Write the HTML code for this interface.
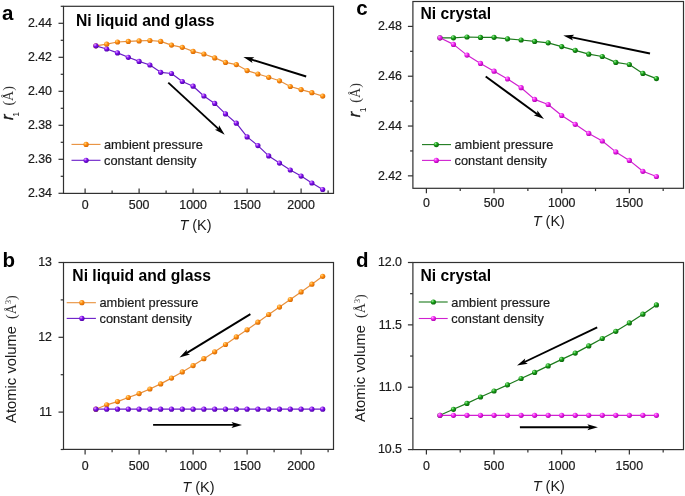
<!DOCTYPE html>
<html><head><meta charset="utf-8"><style>
html,body{margin:0;padding:0;background:#fff;width:685px;height:496px;overflow:hidden}
svg{display:block;will-change:transform}
</style></head><body><svg width="685" height="496" viewBox="0 0 685 496"><defs><radialGradient id="g_orange" cx="0.38" cy="0.36" r="0.7" fx="0.33" fy="0.3"><stop offset="0" stop-color="#FFDC80"/><stop offset="0.45" stop-color="#FF8C10"/><stop offset="1" stop-color="#D06400"/></radialGradient><radialGradient id="g_purple" cx="0.38" cy="0.36" r="0.7" fx="0.33" fy="0.3"><stop offset="0" stop-color="#F0A8FF"/><stop offset="0.45" stop-color="#7E10EE"/><stop offset="1" stop-color="#4C00A0"/></radialGradient><radialGradient id="g_green" cx="0.38" cy="0.36" r="0.7" fx="0.33" fy="0.3"><stop offset="0" stop-color="#A0F0A0"/><stop offset="0.45" stop-color="#16A016"/><stop offset="1" stop-color="#0A5A0A"/></radialGradient><radialGradient id="g_magenta" cx="0.38" cy="0.36" r="0.7" fx="0.33" fy="0.3"><stop offset="0" stop-color="#FFA8FF"/><stop offset="0.45" stop-color="#F020F0"/><stop offset="1" stop-color="#A800A8"/></radialGradient></defs><polyline points="95.90,45.80 106.70,44.20 117.50,42.00 128.30,41.40 139.10,40.90 149.90,40.50 160.70,41.40 171.50,45.10 182.30,47.30 193.10,51.40 203.90,54.00 214.70,57.90 225.50,62.40 236.30,64.60 247.10,70.60 257.90,74.00 268.70,77.30 279.50,80.80 290.30,86.50 301.10,89.60 311.90,92.70 322.70,96.10" fill="none" stroke="#E8903C" stroke-width="1.2" stroke-linejoin="round"/><circle cx="95.90" cy="45.80" r="2.6" fill="url(#g_orange)"/><circle cx="106.70" cy="44.20" r="2.6" fill="url(#g_orange)"/><circle cx="117.50" cy="42.00" r="2.6" fill="url(#g_orange)"/><circle cx="128.30" cy="41.40" r="2.6" fill="url(#g_orange)"/><circle cx="139.10" cy="40.90" r="2.6" fill="url(#g_orange)"/><circle cx="149.90" cy="40.50" r="2.6" fill="url(#g_orange)"/><circle cx="160.70" cy="41.40" r="2.6" fill="url(#g_orange)"/><circle cx="171.50" cy="45.10" r="2.6" fill="url(#g_orange)"/><circle cx="182.30" cy="47.30" r="2.6" fill="url(#g_orange)"/><circle cx="193.10" cy="51.40" r="2.6" fill="url(#g_orange)"/><circle cx="203.90" cy="54.00" r="2.6" fill="url(#g_orange)"/><circle cx="214.70" cy="57.90" r="2.6" fill="url(#g_orange)"/><circle cx="225.50" cy="62.40" r="2.6" fill="url(#g_orange)"/><circle cx="236.30" cy="64.60" r="2.6" fill="url(#g_orange)"/><circle cx="247.10" cy="70.60" r="2.6" fill="url(#g_orange)"/><circle cx="257.90" cy="74.00" r="2.6" fill="url(#g_orange)"/><circle cx="268.70" cy="77.30" r="2.6" fill="url(#g_orange)"/><circle cx="279.50" cy="80.80" r="2.6" fill="url(#g_orange)"/><circle cx="290.30" cy="86.50" r="2.6" fill="url(#g_orange)"/><circle cx="301.10" cy="89.60" r="2.6" fill="url(#g_orange)"/><circle cx="311.90" cy="92.70" r="2.6" fill="url(#g_orange)"/><circle cx="322.70" cy="96.10" r="2.6" fill="url(#g_orange)"/><polyline points="95.90,45.80 106.70,49.00 117.50,52.90 128.30,57.30 139.10,61.40 149.90,65.00 160.70,72.30 171.50,73.50 182.30,81.50 193.10,86.20 203.90,96.00 214.70,103.40 225.50,113.90 236.30,123.20 247.10,136.90 257.90,145.60 268.70,155.90 279.50,163.10 290.30,170.00 301.10,176.10 311.90,183.00 322.70,189.50" fill="none" stroke="#6A1CC8" stroke-width="1.2" stroke-linejoin="round"/><circle cx="95.90" cy="45.80" r="2.6" fill="url(#g_purple)"/><circle cx="106.70" cy="49.00" r="2.6" fill="url(#g_purple)"/><circle cx="117.50" cy="52.90" r="2.6" fill="url(#g_purple)"/><circle cx="128.30" cy="57.30" r="2.6" fill="url(#g_purple)"/><circle cx="139.10" cy="61.40" r="2.6" fill="url(#g_purple)"/><circle cx="149.90" cy="65.00" r="2.6" fill="url(#g_purple)"/><circle cx="160.70" cy="72.30" r="2.6" fill="url(#g_purple)"/><circle cx="171.50" cy="73.50" r="2.6" fill="url(#g_purple)"/><circle cx="182.30" cy="81.50" r="2.6" fill="url(#g_purple)"/><circle cx="193.10" cy="86.20" r="2.6" fill="url(#g_purple)"/><circle cx="203.90" cy="96.00" r="2.6" fill="url(#g_purple)"/><circle cx="214.70" cy="103.40" r="2.6" fill="url(#g_purple)"/><circle cx="225.50" cy="113.90" r="2.6" fill="url(#g_purple)"/><circle cx="236.30" cy="123.20" r="2.6" fill="url(#g_purple)"/><circle cx="247.10" cy="136.90" r="2.6" fill="url(#g_purple)"/><circle cx="257.90" cy="145.60" r="2.6" fill="url(#g_purple)"/><circle cx="268.70" cy="155.90" r="2.6" fill="url(#g_purple)"/><circle cx="279.50" cy="163.10" r="2.6" fill="url(#g_purple)"/><circle cx="290.30" cy="170.00" r="2.6" fill="url(#g_purple)"/><circle cx="301.10" cy="176.10" r="2.6" fill="url(#g_purple)"/><circle cx="311.90" cy="183.00" r="2.6" fill="url(#g_purple)"/><circle cx="322.70" cy="189.50" r="2.6" fill="url(#g_purple)"/><line x1="306.20" y1="76.50" x2="250.85" y2="59.31" stroke="#000" stroke-width="1.9"/><polygon points="243.40,57.00 254.32,57.25 251.33,59.46 252.54,62.98" fill="#000"/><line x1="168.30" y1="82.60" x2="218.97" y2="129.41" stroke="#000" stroke-width="1.9"/><polygon points="224.70,134.70 214.95,129.78 218.60,129.07 219.02,125.37" fill="#000"/><rect x="63.5" y="6.3" width="270.0" height="187.1" fill="none" stroke="#303030" stroke-width="1.2"/><line x1="85.10" y1="193.4" x2="85.10" y2="188.4" stroke="#303030" stroke-width="1.2"/><line x1="139.10" y1="193.4" x2="139.10" y2="188.4" stroke="#303030" stroke-width="1.2"/><line x1="193.10" y1="193.4" x2="193.10" y2="188.4" stroke="#303030" stroke-width="1.2"/><line x1="247.10" y1="193.4" x2="247.10" y2="188.4" stroke="#303030" stroke-width="1.2"/><line x1="301.10" y1="193.4" x2="301.10" y2="188.4" stroke="#303030" stroke-width="1.2"/><line x1="112.10" y1="193.4" x2="112.10" y2="190.6" stroke="#303030" stroke-width="1.2"/><line x1="166.10" y1="193.4" x2="166.10" y2="190.6" stroke="#303030" stroke-width="1.2"/><line x1="220.10" y1="193.4" x2="220.10" y2="190.6" stroke="#303030" stroke-width="1.2"/><line x1="274.10" y1="193.4" x2="274.10" y2="190.6" stroke="#303030" stroke-width="1.2"/><line x1="328.10" y1="193.4" x2="328.10" y2="190.6" stroke="#303030" stroke-width="1.2"/><line x1="63.5" y1="193.30" x2="58.5" y2="193.30" stroke="#303030" stroke-width="1.2"/><line x1="63.5" y1="159.30" x2="58.5" y2="159.30" stroke="#303030" stroke-width="1.2"/><line x1="63.5" y1="125.30" x2="58.5" y2="125.30" stroke="#303030" stroke-width="1.2"/><line x1="63.5" y1="91.30" x2="58.5" y2="91.30" stroke="#303030" stroke-width="1.2"/><line x1="63.5" y1="57.30" x2="58.5" y2="57.30" stroke="#303030" stroke-width="1.2"/><line x1="63.5" y1="23.30" x2="58.5" y2="23.30" stroke="#303030" stroke-width="1.2"/><line x1="63.5" y1="176.30" x2="60.7" y2="176.30" stroke="#303030" stroke-width="1.2"/><line x1="63.5" y1="142.30" x2="60.7" y2="142.30" stroke="#303030" stroke-width="1.2"/><line x1="63.5" y1="108.30" x2="60.7" y2="108.30" stroke="#303030" stroke-width="1.2"/><line x1="63.5" y1="74.30" x2="60.7" y2="74.30" stroke="#303030" stroke-width="1.2"/><line x1="63.5" y1="40.30" x2="60.7" y2="40.30" stroke="#303030" stroke-width="1.2"/><line x1="63.5" y1="6.30" x2="60.7" y2="6.30" stroke="#303030" stroke-width="1.2"/><text x="85.10" y="208.6" font-size="12.4" text-anchor="middle" font-weight="normal" font-style="normal" font-family='"Liberation Sans", sans-serif' fill="#1a1a1a" stroke="#1a1a1a" stroke-width="0.2">0</text><text x="139.10" y="208.6" font-size="12.4" text-anchor="middle" font-weight="normal" font-style="normal" font-family='"Liberation Sans", sans-serif' fill="#1a1a1a" stroke="#1a1a1a" stroke-width="0.2">500</text><text x="193.10" y="208.6" font-size="12.4" text-anchor="middle" font-weight="normal" font-style="normal" font-family='"Liberation Sans", sans-serif' fill="#1a1a1a" stroke="#1a1a1a" stroke-width="0.2">1000</text><text x="247.10" y="208.6" font-size="12.4" text-anchor="middle" font-weight="normal" font-style="normal" font-family='"Liberation Sans", sans-serif' fill="#1a1a1a" stroke="#1a1a1a" stroke-width="0.2">1500</text><text x="301.10" y="208.6" font-size="12.4" text-anchor="middle" font-weight="normal" font-style="normal" font-family='"Liberation Sans", sans-serif' fill="#1a1a1a" stroke="#1a1a1a" stroke-width="0.2">2000</text><text x="52" y="197.00" font-size="12.4" text-anchor="end" font-weight="normal" font-style="normal" font-family='"Liberation Sans", sans-serif' fill="#1a1a1a" stroke="#1a1a1a" stroke-width="0.2">2.34</text><text x="52" y="163.00" font-size="12.4" text-anchor="end" font-weight="normal" font-style="normal" font-family='"Liberation Sans", sans-serif' fill="#1a1a1a" stroke="#1a1a1a" stroke-width="0.2">2.36</text><text x="52" y="129.00" font-size="12.4" text-anchor="end" font-weight="normal" font-style="normal" font-family='"Liberation Sans", sans-serif' fill="#1a1a1a" stroke="#1a1a1a" stroke-width="0.2">2.38</text><text x="52" y="95.00" font-size="12.4" text-anchor="end" font-weight="normal" font-style="normal" font-family='"Liberation Sans", sans-serif' fill="#1a1a1a" stroke="#1a1a1a" stroke-width="0.2">2.40</text><text x="52" y="61.00" font-size="12.4" text-anchor="end" font-weight="normal" font-style="normal" font-family='"Liberation Sans", sans-serif' fill="#1a1a1a" stroke="#1a1a1a" stroke-width="0.2">2.42</text><text x="52" y="27.00" font-size="12.4" text-anchor="end" font-weight="normal" font-style="normal" font-family='"Liberation Sans", sans-serif' fill="#1a1a1a" stroke="#1a1a1a" stroke-width="0.2">2.44</text><polyline points="95.90,409.20 106.70,404.80 117.50,401.60 128.30,397.50 139.10,393.60 149.90,389.00 160.70,383.90 171.50,378.10 182.30,371.90 193.10,365.60 203.90,358.70 214.70,351.80 225.50,344.50 236.30,336.90 247.10,329.80 257.90,322.20 268.70,314.50 279.50,307.10 290.30,299.50 301.10,291.90 311.90,284.20 322.70,276.30" fill="none" stroke="#E8903C" stroke-width="1.2" stroke-linejoin="round"/><circle cx="95.90" cy="409.20" r="2.6" fill="url(#g_orange)"/><circle cx="106.70" cy="404.80" r="2.6" fill="url(#g_orange)"/><circle cx="117.50" cy="401.60" r="2.6" fill="url(#g_orange)"/><circle cx="128.30" cy="397.50" r="2.6" fill="url(#g_orange)"/><circle cx="139.10" cy="393.60" r="2.6" fill="url(#g_orange)"/><circle cx="149.90" cy="389.00" r="2.6" fill="url(#g_orange)"/><circle cx="160.70" cy="383.90" r="2.6" fill="url(#g_orange)"/><circle cx="171.50" cy="378.10" r="2.6" fill="url(#g_orange)"/><circle cx="182.30" cy="371.90" r="2.6" fill="url(#g_orange)"/><circle cx="193.10" cy="365.60" r="2.6" fill="url(#g_orange)"/><circle cx="203.90" cy="358.70" r="2.6" fill="url(#g_orange)"/><circle cx="214.70" cy="351.80" r="2.6" fill="url(#g_orange)"/><circle cx="225.50" cy="344.50" r="2.6" fill="url(#g_orange)"/><circle cx="236.30" cy="336.90" r="2.6" fill="url(#g_orange)"/><circle cx="247.10" cy="329.80" r="2.6" fill="url(#g_orange)"/><circle cx="257.90" cy="322.20" r="2.6" fill="url(#g_orange)"/><circle cx="268.70" cy="314.50" r="2.6" fill="url(#g_orange)"/><circle cx="279.50" cy="307.10" r="2.6" fill="url(#g_orange)"/><circle cx="290.30" cy="299.50" r="2.6" fill="url(#g_orange)"/><circle cx="301.10" cy="291.90" r="2.6" fill="url(#g_orange)"/><circle cx="311.90" cy="284.20" r="2.6" fill="url(#g_orange)"/><circle cx="322.70" cy="276.30" r="2.6" fill="url(#g_orange)"/><polyline points="95.90,409.20 106.70,409.20 117.50,409.20 128.30,409.20 139.10,409.20 149.90,409.20 160.70,409.20 171.50,409.20 182.30,409.20 193.10,409.20 203.90,409.20 214.70,409.20 225.50,409.20 236.30,409.20 247.10,409.20 257.90,409.20 268.70,409.20 279.50,409.20 290.30,409.20 301.10,409.20 311.90,409.20 322.70,409.20" fill="none" stroke="#6A1CC8" stroke-width="1.2" stroke-linejoin="round"/><circle cx="95.90" cy="409.20" r="2.6" fill="url(#g_purple)"/><circle cx="106.70" cy="409.20" r="2.6" fill="url(#g_purple)"/><circle cx="117.50" cy="409.20" r="2.6" fill="url(#g_purple)"/><circle cx="128.30" cy="409.20" r="2.6" fill="url(#g_purple)"/><circle cx="139.10" cy="409.20" r="2.6" fill="url(#g_purple)"/><circle cx="149.90" cy="409.20" r="2.6" fill="url(#g_purple)"/><circle cx="160.70" cy="409.20" r="2.6" fill="url(#g_purple)"/><circle cx="171.50" cy="409.20" r="2.6" fill="url(#g_purple)"/><circle cx="182.30" cy="409.20" r="2.6" fill="url(#g_purple)"/><circle cx="193.10" cy="409.20" r="2.6" fill="url(#g_purple)"/><circle cx="203.90" cy="409.20" r="2.6" fill="url(#g_purple)"/><circle cx="214.70" cy="409.20" r="2.6" fill="url(#g_purple)"/><circle cx="225.50" cy="409.20" r="2.6" fill="url(#g_purple)"/><circle cx="236.30" cy="409.20" r="2.6" fill="url(#g_purple)"/><circle cx="247.10" cy="409.20" r="2.6" fill="url(#g_purple)"/><circle cx="257.90" cy="409.20" r="2.6" fill="url(#g_purple)"/><circle cx="268.70" cy="409.20" r="2.6" fill="url(#g_purple)"/><circle cx="279.50" cy="409.20" r="2.6" fill="url(#g_purple)"/><circle cx="290.30" cy="409.20" r="2.6" fill="url(#g_purple)"/><circle cx="301.10" cy="409.20" r="2.6" fill="url(#g_purple)"/><circle cx="311.90" cy="409.20" r="2.6" fill="url(#g_purple)"/><circle cx="322.70" cy="409.20" r="2.6" fill="url(#g_purple)"/><line x1="250.40" y1="314.10" x2="186.15" y2="353.43" stroke="#000" stroke-width="1.9"/><polygon points="179.50,357.50 186.89,349.46 186.58,353.17 190.02,354.58" fill="#000"/><line x1="153.10" y1="424.90" x2="234.20" y2="424.90" stroke="#000" stroke-width="1.9"/><polygon points="242.00,424.90 231.50,427.90 233.70,424.90 231.50,421.90" fill="#000"/><rect x="63.5" y="262.5" width="270.0" height="186.89999999999998" fill="none" stroke="#303030" stroke-width="1.2"/><line x1="85.10" y1="449.4" x2="85.10" y2="454.4" stroke="#303030" stroke-width="1.2"/><line x1="139.10" y1="449.4" x2="139.10" y2="454.4" stroke="#303030" stroke-width="1.2"/><line x1="193.10" y1="449.4" x2="193.10" y2="454.4" stroke="#303030" stroke-width="1.2"/><line x1="247.10" y1="449.4" x2="247.10" y2="454.4" stroke="#303030" stroke-width="1.2"/><line x1="301.10" y1="449.4" x2="301.10" y2="454.4" stroke="#303030" stroke-width="1.2"/><line x1="112.10" y1="449.4" x2="112.10" y2="452.2" stroke="#303030" stroke-width="1.2"/><line x1="166.10" y1="449.4" x2="166.10" y2="452.2" stroke="#303030" stroke-width="1.2"/><line x1="220.10" y1="449.4" x2="220.10" y2="452.2" stroke="#303030" stroke-width="1.2"/><line x1="274.10" y1="449.4" x2="274.10" y2="452.2" stroke="#303030" stroke-width="1.2"/><line x1="328.10" y1="449.4" x2="328.10" y2="452.2" stroke="#303030" stroke-width="1.2"/><line x1="63.5" y1="412.10" x2="58.5" y2="412.10" stroke="#303030" stroke-width="1.2"/><line x1="63.5" y1="337.30" x2="58.5" y2="337.30" stroke="#303030" stroke-width="1.2"/><line x1="63.5" y1="262.50" x2="58.5" y2="262.50" stroke="#303030" stroke-width="1.2"/><line x1="63.5" y1="449.50" x2="60.7" y2="449.50" stroke="#303030" stroke-width="1.2"/><line x1="63.5" y1="374.70" x2="60.7" y2="374.70" stroke="#303030" stroke-width="1.2"/><line x1="63.5" y1="299.90" x2="60.7" y2="299.90" stroke="#303030" stroke-width="1.2"/><text x="85.10" y="470" font-size="12.4" text-anchor="middle" font-weight="normal" font-style="normal" font-family='"Liberation Sans", sans-serif' fill="#1a1a1a" stroke="#1a1a1a" stroke-width="0.2">0</text><text x="139.10" y="470" font-size="12.4" text-anchor="middle" font-weight="normal" font-style="normal" font-family='"Liberation Sans", sans-serif' fill="#1a1a1a" stroke="#1a1a1a" stroke-width="0.2">500</text><text x="193.10" y="470" font-size="12.4" text-anchor="middle" font-weight="normal" font-style="normal" font-family='"Liberation Sans", sans-serif' fill="#1a1a1a" stroke="#1a1a1a" stroke-width="0.2">1000</text><text x="247.10" y="470" font-size="12.4" text-anchor="middle" font-weight="normal" font-style="normal" font-family='"Liberation Sans", sans-serif' fill="#1a1a1a" stroke="#1a1a1a" stroke-width="0.2">1500</text><text x="301.10" y="470" font-size="12.4" text-anchor="middle" font-weight="normal" font-style="normal" font-family='"Liberation Sans", sans-serif' fill="#1a1a1a" stroke="#1a1a1a" stroke-width="0.2">2000</text><text x="52" y="415.80" font-size="12.4" text-anchor="end" font-weight="normal" font-style="normal" font-family='"Liberation Sans", sans-serif' fill="#1a1a1a" stroke="#1a1a1a" stroke-width="0.2">11</text><text x="52" y="341.00" font-size="12.4" text-anchor="end" font-weight="normal" font-style="normal" font-family='"Liberation Sans", sans-serif' fill="#1a1a1a" stroke="#1a1a1a" stroke-width="0.2">12</text><text x="52" y="266.20" font-size="12.4" text-anchor="end" font-weight="normal" font-style="normal" font-family='"Liberation Sans", sans-serif' fill="#1a1a1a" stroke="#1a1a1a" stroke-width="0.2">13</text><polyline points="439.93,37.80 453.46,37.80 466.99,37.00 480.52,37.40 494.05,37.30 507.58,38.90 521.11,40.00 534.64,41.40 548.17,42.80 561.70,46.60 575.23,50.30 588.76,54.20 602.29,56.50 615.82,62.40 629.35,64.50 642.88,73.40 656.41,78.60" fill="none" stroke="#1C7A1C" stroke-width="1.2" stroke-linejoin="round"/><circle cx="439.93" cy="37.80" r="2.6" fill="url(#g_green)"/><circle cx="453.46" cy="37.80" r="2.6" fill="url(#g_green)"/><circle cx="466.99" cy="37.00" r="2.6" fill="url(#g_green)"/><circle cx="480.52" cy="37.40" r="2.6" fill="url(#g_green)"/><circle cx="494.05" cy="37.30" r="2.6" fill="url(#g_green)"/><circle cx="507.58" cy="38.90" r="2.6" fill="url(#g_green)"/><circle cx="521.11" cy="40.00" r="2.6" fill="url(#g_green)"/><circle cx="534.64" cy="41.40" r="2.6" fill="url(#g_green)"/><circle cx="548.17" cy="42.80" r="2.6" fill="url(#g_green)"/><circle cx="561.70" cy="46.60" r="2.6" fill="url(#g_green)"/><circle cx="575.23" cy="50.30" r="2.6" fill="url(#g_green)"/><circle cx="588.76" cy="54.20" r="2.6" fill="url(#g_green)"/><circle cx="602.29" cy="56.50" r="2.6" fill="url(#g_green)"/><circle cx="615.82" cy="62.40" r="2.6" fill="url(#g_green)"/><circle cx="629.35" cy="64.50" r="2.6" fill="url(#g_green)"/><circle cx="642.88" cy="73.40" r="2.6" fill="url(#g_green)"/><circle cx="656.41" cy="78.60" r="2.6" fill="url(#g_green)"/><polyline points="439.93,37.80 453.46,44.40 466.99,55.10 480.52,63.40 494.05,71.20 507.58,79.00 521.11,87.70 534.64,99.40 548.17,104.50 561.70,115.50 575.23,124.30 588.76,133.40 602.29,141.00 615.82,151.90 629.35,160.40 642.88,171.30 656.41,176.50" fill="none" stroke="#D020D0" stroke-width="1.2" stroke-linejoin="round"/><circle cx="439.93" cy="37.80" r="2.6" fill="url(#g_magenta)"/><circle cx="453.46" cy="44.40" r="2.6" fill="url(#g_magenta)"/><circle cx="466.99" cy="55.10" r="2.6" fill="url(#g_magenta)"/><circle cx="480.52" cy="63.40" r="2.6" fill="url(#g_magenta)"/><circle cx="494.05" cy="71.20" r="2.6" fill="url(#g_magenta)"/><circle cx="507.58" cy="79.00" r="2.6" fill="url(#g_magenta)"/><circle cx="521.11" cy="87.70" r="2.6" fill="url(#g_magenta)"/><circle cx="534.64" cy="99.40" r="2.6" fill="url(#g_magenta)"/><circle cx="548.17" cy="104.50" r="2.6" fill="url(#g_magenta)"/><circle cx="561.70" cy="115.50" r="2.6" fill="url(#g_magenta)"/><circle cx="575.23" cy="124.30" r="2.6" fill="url(#g_magenta)"/><circle cx="588.76" cy="133.40" r="2.6" fill="url(#g_magenta)"/><circle cx="602.29" cy="141.00" r="2.6" fill="url(#g_magenta)"/><circle cx="615.82" cy="151.90" r="2.6" fill="url(#g_magenta)"/><circle cx="629.35" cy="160.40" r="2.6" fill="url(#g_magenta)"/><circle cx="642.88" cy="171.30" r="2.6" fill="url(#g_magenta)"/><circle cx="656.41" cy="176.50" r="2.6" fill="url(#g_magenta)"/><line x1="650.00" y1="53.50" x2="570.94" y2="37.09" stroke="#000" stroke-width="1.9"/><polygon points="563.30,35.50 574.19,34.70 571.43,37.19 572.97,40.57" fill="#000"/><line x1="485.70" y1="76.50" x2="537.70" y2="114.50" stroke="#000" stroke-width="1.9"/><polygon points="544.00,119.10 533.75,115.33 537.30,114.20 537.29,110.48" fill="#000"/><rect x="412.9" y="1.5" width="270.6" height="186.8" fill="none" stroke="#303030" stroke-width="1.2"/><line x1="426.40" y1="188.3" x2="426.40" y2="193.3" stroke="#303030" stroke-width="1.2"/><line x1="494.05" y1="188.3" x2="494.05" y2="193.3" stroke="#303030" stroke-width="1.2"/><line x1="561.70" y1="188.3" x2="561.70" y2="193.3" stroke="#303030" stroke-width="1.2"/><line x1="629.35" y1="188.3" x2="629.35" y2="193.3" stroke="#303030" stroke-width="1.2"/><line x1="460.22" y1="188.3" x2="460.22" y2="191.10000000000002" stroke="#303030" stroke-width="1.2"/><line x1="527.88" y1="188.3" x2="527.88" y2="191.10000000000002" stroke="#303030" stroke-width="1.2"/><line x1="595.52" y1="188.3" x2="595.52" y2="191.10000000000002" stroke="#303030" stroke-width="1.2"/><line x1="663.17" y1="188.3" x2="663.17" y2="191.10000000000002" stroke="#303030" stroke-width="1.2"/><line x1="412.9" y1="175.85" x2="407.9" y2="175.85" stroke="#303030" stroke-width="1.2"/><line x1="412.9" y1="126.04" x2="407.9" y2="126.04" stroke="#303030" stroke-width="1.2"/><line x1="412.9" y1="76.22" x2="407.9" y2="76.22" stroke="#303030" stroke-width="1.2"/><line x1="412.9" y1="26.41" x2="407.9" y2="26.41" stroke="#303030" stroke-width="1.2"/><line x1="412.9" y1="150.94" x2="410.09999999999997" y2="150.94" stroke="#303030" stroke-width="1.2"/><line x1="412.9" y1="101.13" x2="410.09999999999997" y2="101.13" stroke="#303030" stroke-width="1.2"/><line x1="412.9" y1="51.31" x2="410.09999999999997" y2="51.31" stroke="#303030" stroke-width="1.2"/><text x="426.40" y="206.7" font-size="12.4" text-anchor="middle" font-weight="normal" font-style="normal" font-family='"Liberation Sans", sans-serif' fill="#1a1a1a" stroke="#1a1a1a" stroke-width="0.2">0</text><text x="494.05" y="206.7" font-size="12.4" text-anchor="middle" font-weight="normal" font-style="normal" font-family='"Liberation Sans", sans-serif' fill="#1a1a1a" stroke="#1a1a1a" stroke-width="0.2">500</text><text x="561.70" y="206.7" font-size="12.4" text-anchor="middle" font-weight="normal" font-style="normal" font-family='"Liberation Sans", sans-serif' fill="#1a1a1a" stroke="#1a1a1a" stroke-width="0.2">1000</text><text x="629.35" y="206.7" font-size="12.4" text-anchor="middle" font-weight="normal" font-style="normal" font-family='"Liberation Sans", sans-serif' fill="#1a1a1a" stroke="#1a1a1a" stroke-width="0.2">1500</text><text x="402" y="179.55" font-size="12.4" text-anchor="end" font-weight="normal" font-style="normal" font-family='"Liberation Sans", sans-serif' fill="#1a1a1a" stroke="#1a1a1a" stroke-width="0.2">2.42</text><text x="402" y="129.74" font-size="12.4" text-anchor="end" font-weight="normal" font-style="normal" font-family='"Liberation Sans", sans-serif' fill="#1a1a1a" stroke="#1a1a1a" stroke-width="0.2">2.44</text><text x="402" y="79.92" font-size="12.4" text-anchor="end" font-weight="normal" font-style="normal" font-family='"Liberation Sans", sans-serif' fill="#1a1a1a" stroke="#1a1a1a" stroke-width="0.2">2.46</text><text x="402" y="30.11" font-size="12.4" text-anchor="end" font-weight="normal" font-style="normal" font-family='"Liberation Sans", sans-serif' fill="#1a1a1a" stroke="#1a1a1a" stroke-width="0.2">2.48</text><polyline points="439.93,415.30 453.46,409.30 466.99,403.40 480.52,397.00 494.05,391.00 507.58,384.90 521.11,378.50 534.64,372.40 548.17,365.90 561.70,359.40 575.23,353.10 588.76,345.90 602.29,338.50 615.82,331.30 629.35,322.90 642.88,314.20 656.41,304.90" fill="none" stroke="#1C7A1C" stroke-width="1.2" stroke-linejoin="round"/><circle cx="439.93" cy="415.30" r="2.6" fill="url(#g_green)"/><circle cx="453.46" cy="409.30" r="2.6" fill="url(#g_green)"/><circle cx="466.99" cy="403.40" r="2.6" fill="url(#g_green)"/><circle cx="480.52" cy="397.00" r="2.6" fill="url(#g_green)"/><circle cx="494.05" cy="391.00" r="2.6" fill="url(#g_green)"/><circle cx="507.58" cy="384.90" r="2.6" fill="url(#g_green)"/><circle cx="521.11" cy="378.50" r="2.6" fill="url(#g_green)"/><circle cx="534.64" cy="372.40" r="2.6" fill="url(#g_green)"/><circle cx="548.17" cy="365.90" r="2.6" fill="url(#g_green)"/><circle cx="561.70" cy="359.40" r="2.6" fill="url(#g_green)"/><circle cx="575.23" cy="353.10" r="2.6" fill="url(#g_green)"/><circle cx="588.76" cy="345.90" r="2.6" fill="url(#g_green)"/><circle cx="602.29" cy="338.50" r="2.6" fill="url(#g_green)"/><circle cx="615.82" cy="331.30" r="2.6" fill="url(#g_green)"/><circle cx="629.35" cy="322.90" r="2.6" fill="url(#g_green)"/><circle cx="642.88" cy="314.20" r="2.6" fill="url(#g_green)"/><circle cx="656.41" cy="304.90" r="2.6" fill="url(#g_green)"/><polyline points="439.93,415.30 453.46,415.30 466.99,415.30 480.52,415.30 494.05,415.30 507.58,415.30 521.11,415.30 534.64,415.30 548.17,415.30 561.70,415.30 575.23,415.30 588.76,415.30 602.29,415.30 615.82,415.30 629.35,415.30 642.88,415.30 656.41,415.30" fill="none" stroke="#D020D0" stroke-width="1.2" stroke-linejoin="round"/><circle cx="439.93" cy="415.30" r="2.6" fill="url(#g_magenta)"/><circle cx="453.46" cy="415.30" r="2.6" fill="url(#g_magenta)"/><circle cx="466.99" cy="415.30" r="2.6" fill="url(#g_magenta)"/><circle cx="480.52" cy="415.30" r="2.6" fill="url(#g_magenta)"/><circle cx="494.05" cy="415.30" r="2.6" fill="url(#g_magenta)"/><circle cx="507.58" cy="415.30" r="2.6" fill="url(#g_magenta)"/><circle cx="521.11" cy="415.30" r="2.6" fill="url(#g_magenta)"/><circle cx="534.64" cy="415.30" r="2.6" fill="url(#g_magenta)"/><circle cx="548.17" cy="415.30" r="2.6" fill="url(#g_magenta)"/><circle cx="561.70" cy="415.30" r="2.6" fill="url(#g_magenta)"/><circle cx="575.23" cy="415.30" r="2.6" fill="url(#g_magenta)"/><circle cx="588.76" cy="415.30" r="2.6" fill="url(#g_magenta)"/><circle cx="602.29" cy="415.30" r="2.6" fill="url(#g_magenta)"/><circle cx="615.82" cy="415.30" r="2.6" fill="url(#g_magenta)"/><circle cx="629.35" cy="415.30" r="2.6" fill="url(#g_magenta)"/><circle cx="642.88" cy="415.30" r="2.6" fill="url(#g_magenta)"/><circle cx="656.41" cy="415.30" r="2.6" fill="url(#g_magenta)"/><line x1="597.20" y1="327.40" x2="524.04" y2="362.25" stroke="#000" stroke-width="1.9"/><polygon points="517.00,365.60 525.19,358.38 524.49,362.03 527.77,363.79" fill="#000"/><line x1="519.90" y1="427.20" x2="590.10" y2="427.20" stroke="#000" stroke-width="1.9"/><polygon points="597.90,427.20 587.40,430.20 589.60,427.20 587.40,424.20" fill="#000"/><rect x="412.9" y="262.5" width="270.6" height="187.10000000000002" fill="none" stroke="#303030" stroke-width="1.2"/><line x1="426.40" y1="449.6" x2="426.40" y2="454.6" stroke="#303030" stroke-width="1.2"/><line x1="494.05" y1="449.6" x2="494.05" y2="454.6" stroke="#303030" stroke-width="1.2"/><line x1="561.70" y1="449.6" x2="561.70" y2="454.6" stroke="#303030" stroke-width="1.2"/><line x1="629.35" y1="449.6" x2="629.35" y2="454.6" stroke="#303030" stroke-width="1.2"/><line x1="460.22" y1="449.6" x2="460.22" y2="452.40000000000003" stroke="#303030" stroke-width="1.2"/><line x1="527.88" y1="449.6" x2="527.88" y2="452.40000000000003" stroke="#303030" stroke-width="1.2"/><line x1="595.52" y1="449.6" x2="595.52" y2="452.40000000000003" stroke="#303030" stroke-width="1.2"/><line x1="663.17" y1="449.6" x2="663.17" y2="452.40000000000003" stroke="#303030" stroke-width="1.2"/><line x1="412.9" y1="449.60" x2="407.9" y2="449.60" stroke="#303030" stroke-width="1.2"/><line x1="412.9" y1="387.23" x2="407.9" y2="387.23" stroke="#303030" stroke-width="1.2"/><line x1="412.9" y1="324.87" x2="407.9" y2="324.87" stroke="#303030" stroke-width="1.2"/><line x1="412.9" y1="262.50" x2="407.9" y2="262.50" stroke="#303030" stroke-width="1.2"/><line x1="412.9" y1="418.41" x2="410.09999999999997" y2="418.41" stroke="#303030" stroke-width="1.2"/><line x1="412.9" y1="356.05" x2="410.09999999999997" y2="356.05" stroke="#303030" stroke-width="1.2"/><line x1="412.9" y1="293.68" x2="410.09999999999997" y2="293.68" stroke="#303030" stroke-width="1.2"/><text x="426.40" y="470" font-size="12.4" text-anchor="middle" font-weight="normal" font-style="normal" font-family='"Liberation Sans", sans-serif' fill="#1a1a1a" stroke="#1a1a1a" stroke-width="0.2">0</text><text x="494.05" y="470" font-size="12.4" text-anchor="middle" font-weight="normal" font-style="normal" font-family='"Liberation Sans", sans-serif' fill="#1a1a1a" stroke="#1a1a1a" stroke-width="0.2">500</text><text x="561.70" y="470" font-size="12.4" text-anchor="middle" font-weight="normal" font-style="normal" font-family='"Liberation Sans", sans-serif' fill="#1a1a1a" stroke="#1a1a1a" stroke-width="0.2">1000</text><text x="629.35" y="470" font-size="12.4" text-anchor="middle" font-weight="normal" font-style="normal" font-family='"Liberation Sans", sans-serif' fill="#1a1a1a" stroke="#1a1a1a" stroke-width="0.2">1500</text><text x="402" y="453.30" font-size="12.4" text-anchor="end" font-weight="normal" font-style="normal" font-family='"Liberation Sans", sans-serif' fill="#1a1a1a" stroke="#1a1a1a" stroke-width="0.2">10.5</text><text x="402" y="390.93" font-size="12.4" text-anchor="end" font-weight="normal" font-style="normal" font-family='"Liberation Sans", sans-serif' fill="#1a1a1a" stroke="#1a1a1a" stroke-width="0.2">11.0</text><text x="402" y="328.56" font-size="12.4" text-anchor="end" font-weight="normal" font-style="normal" font-family='"Liberation Sans", sans-serif' fill="#1a1a1a" stroke="#1a1a1a" stroke-width="0.2">11.5</text><text x="402" y="266.20" font-size="12.4" text-anchor="end" font-weight="normal" font-style="normal" font-family='"Liberation Sans", sans-serif' fill="#1a1a1a" stroke="#1a1a1a" stroke-width="0.2">12.0</text><text x="76" y="25.6" font-size="15.7" text-anchor="start" font-weight="bold" font-style="normal" font-family='"Liberation Sans", sans-serif' fill="#000" >Ni liquid and glass</text><text x="72.3" y="280.6" font-size="15.7" text-anchor="start" font-weight="bold" font-style="normal" font-family='"Liberation Sans", sans-serif' fill="#000" >Ni liquid and glass</text><text x="420.5" y="18.7" font-size="15.7" text-anchor="start" font-weight="bold" font-style="normal" font-family='"Liberation Sans", sans-serif' fill="#000" >Ni crystal</text><text x="420.5" y="280.8" font-size="15.7" text-anchor="start" font-weight="bold" font-style="normal" font-family='"Liberation Sans", sans-serif' fill="#000" >Ni crystal</text><text x="2" y="20.0" font-size="20.5" text-anchor="start" font-weight="bold" font-style="normal" font-family='"Liberation Sans", sans-serif' fill="#000" >a</text><text x="2.5" y="267.2" font-size="20.5" text-anchor="start" font-weight="bold" font-style="normal" font-family='"Liberation Sans", sans-serif' fill="#000" >b</text><text x="356.3" y="15.2" font-size="20.5" text-anchor="start" font-weight="bold" font-style="normal" font-family='"Liberation Sans", sans-serif' fill="#000" >c</text><text x="356" y="267.4" font-size="20.5" text-anchor="start" font-weight="bold" font-style="normal" font-family='"Liberation Sans", sans-serif' fill="#000" >d</text><line x1="71.5" y1="144.4" x2="100.5" y2="144.4" stroke="#E8903C" stroke-width="1.1"/><circle cx="86.10" cy="144.40" r="2.6" fill="url(#g_orange)"/><text x="104" y="148.90" font-size="12.8" text-anchor="start" font-weight="normal" font-style="normal" font-family='"Liberation Sans", sans-serif' fill="#1a1a1a" stroke="#1a1a1a" stroke-width="0.2">ambient pressure</text><line x1="71.5" y1="160.3" x2="100.5" y2="160.3" stroke="#6A1CC8" stroke-width="1.1"/><circle cx="86.10" cy="160.30" r="2.6" fill="url(#g_purple)"/><text x="104" y="164.80" font-size="12.8" text-anchor="start" font-weight="normal" font-style="normal" font-family='"Liberation Sans", sans-serif' fill="#1a1a1a" stroke="#1a1a1a" stroke-width="0.2">constant density</text><line x1="66.7" y1="302.7" x2="95.9" y2="302.7" stroke="#E8903C" stroke-width="1.1"/><circle cx="81.90" cy="302.70" r="2.6" fill="url(#g_orange)"/><text x="99.5" y="307.20" font-size="12.8" text-anchor="start" font-weight="normal" font-style="normal" font-family='"Liberation Sans", sans-serif' fill="#1a1a1a" stroke="#1a1a1a" stroke-width="0.2">ambient pressure</text><line x1="66.7" y1="318.4" x2="95.9" y2="318.4" stroke="#6A1CC8" stroke-width="1.1"/><circle cx="81.90" cy="318.40" r="2.6" fill="url(#g_purple)"/><text x="99.5" y="322.90" font-size="12.8" text-anchor="start" font-weight="normal" font-style="normal" font-family='"Liberation Sans", sans-serif' fill="#1a1a1a" stroke="#1a1a1a" stroke-width="0.2">constant density</text><line x1="422" y1="144.6" x2="451" y2="144.6" stroke="#1C7A1C" stroke-width="1.1"/><circle cx="436.30" cy="144.60" r="2.6" fill="url(#g_green)"/><text x="454.5" y="149.10" font-size="12.8" text-anchor="start" font-weight="normal" font-style="normal" font-family='"Liberation Sans", sans-serif' fill="#1a1a1a" stroke="#1a1a1a" stroke-width="0.2">ambient pressure</text><line x1="422" y1="160.4" x2="451" y2="160.4" stroke="#D020D0" stroke-width="1.1"/><circle cx="436.30" cy="160.40" r="2.6" fill="url(#g_magenta)"/><text x="454.5" y="164.90" font-size="12.8" text-anchor="start" font-weight="normal" font-style="normal" font-family='"Liberation Sans", sans-serif' fill="#1a1a1a" stroke="#1a1a1a" stroke-width="0.2">constant density</text><line x1="418.8" y1="302.0" x2="447.7" y2="302.0" stroke="#1C7A1C" stroke-width="1.1"/><circle cx="433.40" cy="302.00" r="2.6" fill="url(#g_green)"/><text x="451.3" y="306.50" font-size="12.8" text-anchor="start" font-weight="normal" font-style="normal" font-family='"Liberation Sans", sans-serif' fill="#1a1a1a" stroke="#1a1a1a" stroke-width="0.2">ambient pressure</text><line x1="418.8" y1="318.5" x2="447.7" y2="318.5" stroke="#D020D0" stroke-width="1.1"/><circle cx="433.40" cy="318.50" r="2.6" fill="url(#g_magenta)"/><text x="451.3" y="323.00" font-size="12.8" text-anchor="start" font-weight="normal" font-style="normal" font-family='"Liberation Sans", sans-serif' fill="#1a1a1a" stroke="#1a1a1a" stroke-width="0.2">constant density</text><text x="195.5" y="229.5" font-size="14.5" text-anchor="middle" font-family='"Liberation Sans", sans-serif' fill="#1a1a1a"><tspan font-style="italic">T</tspan> (K)</text><text x="198.4" y="492.1" font-size="14.5" text-anchor="middle" font-family='"Liberation Sans", sans-serif' fill="#1a1a1a"><tspan font-style="italic">T</tspan> (K)</text><text x="548.8" y="225.8" font-size="14.5" text-anchor="middle" font-family='"Liberation Sans", sans-serif' fill="#1a1a1a"><tspan font-style="italic">T</tspan> (K)</text><text x="548.8" y="491.3" font-size="14.5" text-anchor="middle" font-family='"Liberation Sans", sans-serif' fill="#1a1a1a"><tspan font-style="italic">T</tspan> (K)</text><text transform="translate(13.2,103.1) rotate(-90)" font-size="14.5" text-anchor="middle" font-family='"Liberation Sans", sans-serif' fill="#1a1a1a"><tspan font-style="italic" font-size="16.5" stroke="#1a1a1a" stroke-width="0.35">r</tspan><tspan font-size="8.5" dy="6.2" dx="-2.1">1</tspan><tspan dy="-6.2" dx="6.4" font-family='"Liberation Serif", serif' font-size="14" fill="#333">(Å)</tspan></text><text transform="translate(16,359.2) rotate(-90)" font-size="14.8" text-anchor="middle" font-family='"Liberation Sans", sans-serif' fill="#1a1a1a">Atomic volume<tspan dx="7" font-family='"Liberation Serif", serif' font-size="14" fill="#333">(Å<tspan font-size="8" dy="-5">3</tspan><tspan dy="5">)</tspan></tspan></text><text transform="translate(359.8,100.2) rotate(-90)" font-size="14.5" text-anchor="middle" font-family='"Liberation Sans", sans-serif' fill="#1a1a1a"><tspan font-style="italic" font-size="16.5" stroke="#1a1a1a" stroke-width="0.35">r</tspan><tspan font-size="8.5" dy="6.2" dx="-0.6">1</tspan><tspan dy="-6.2" dx="4.9" font-family='"Liberation Serif", serif' font-size="14" fill="#333">(Å)</tspan></text><text transform="translate(365.3,358.2) rotate(-90)" font-size="14.8" text-anchor="middle" font-family='"Liberation Sans", sans-serif' fill="#1a1a1a">Atomic volume<tspan dx="7" font-family='"Liberation Serif", serif' font-size="14" fill="#333">(Å<tspan font-size="8" dy="-5">3</tspan><tspan dy="5">)</tspan></tspan></text></svg></body></html>
